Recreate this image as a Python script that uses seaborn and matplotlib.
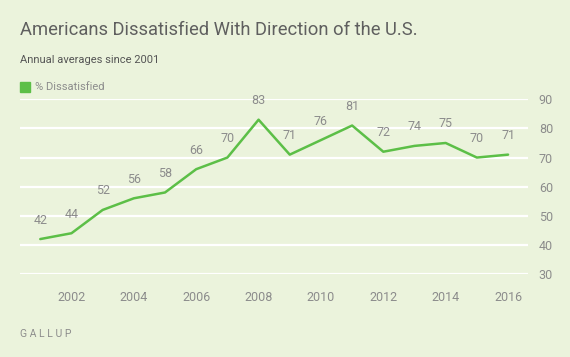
import matplotlib
matplotlib.use("Agg")
import matplotlib.pyplot as plt
import seaborn as sns
import pandas as pd

# data
years = [2001, 2002, 2003, 2004, 2005, 2006, 2007, 2008,
         2009, 2010, 2011, 2012, 2013, 2014, 2015, 2016]
dissatisfied = [42, 44, 52, 56, 58, 66, 70, 83, 71, 76, 81, 72, 74, 75, 70, 71]
x_ticks = [2002, 2004, 2006, 2008, 2010, 2012, 2014, 2016]
y_ticks = [30, 40, 50, 60, 70, 80, 90]

bg = "#ebf3dc"
green = "#5cbf47"
gray = "#8c8c8c"

sns.set_style("white")
plt.rcParams["font.family"] = ["Roboto", "DejaVu Sans"]

df = pd.DataFrame({"year": years, "pct": dissatisfied})

fig = plt.figure(figsize=(5.7, 3.57), dpi=100, facecolor=bg)
ax = fig.add_axes([0.0351, 0.2325, 0.8907, 0.4893])
ax.set_facecolor(bg)

# white horizontal gridlines
for v in y_ticks:
    ax.axhline(v, color="white", lw=1.6, zorder=1)

sns.lineplot(data=df, x="year", y="pct", color=green, lw=1.8, ax=ax, zorder=3)

for x, y in zip(years, dissatisfied):
    ax.annotate(str(y), (x, y), xytext=(0, 9), textcoords="offset points",
                ha="center", va="bottom", fontsize=9, color=gray)

ax.set_xlim(2000.35, 2016.63)
ax.set_ylim(30, 90)
ax.set_xticks(x_ticks)
ax.set_yticks(y_ticks)
ax.yaxis.tick_right()
ax.tick_params(axis="y", length=0, pad=8, labelsize=9, labelcolor=gray)
ax.tick_params(axis="x", length=9, width=1.6, color="white", pad=3,
               labelsize=9, labelcolor=gray)
ax.set_xlabel("")
ax.set_ylabel("")
for s in ax.spines.values():
    s.set_visible(False)

fig.text(20 / 570, 1 - 30 / 357, "Americans Dissatisfied With Direction of the U.S.",
         fontsize=13.2, color="#5f5f5f", va="center", ha="left")
fig.text(20 / 570, 1 - 60 / 357, "Annual averages since 2001",
         fontsize=8, color="#555555", va="center", ha="left")
fig.patches.append(plt.Rectangle((20 / 570, 1 - 92 / 357), 10 / 570, 10 / 357,
                                 transform=fig.transFigure, color=green,
                                 figure=fig))
fig.text(35 / 570, 1 - 87 / 357, "% Dissatisfied",
         fontsize=8, color=gray, va="center", ha="left")
fig.text(20 / 570, 1 - 334 / 357, "G A L L U P",
         fontsize=7.5, color=gray, va="center", ha="left")

fig.savefig("out.png", dpi=100, facecolor=bg)
